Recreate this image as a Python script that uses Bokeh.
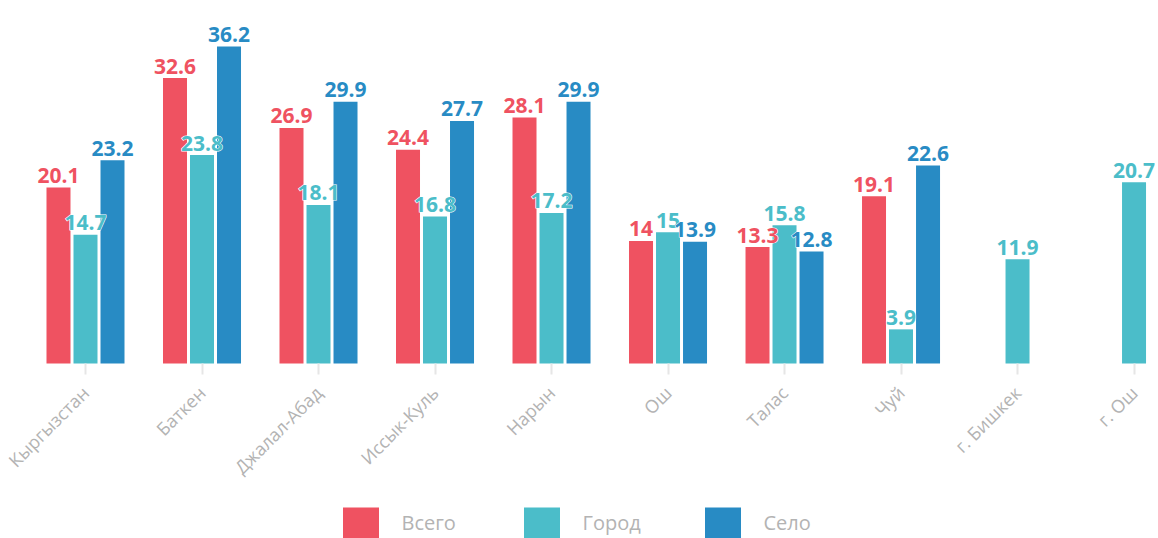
import math
from bokeh.plotting import figure
from bokeh.models import ColumnDataSource, Range1d, FixedTicker, Legend, LegendItem
from bokeh.transform import dodge
from bokeh.core.properties import value
from bokeh.embed import file_html
from bokeh.resources import INLINE

categories = ["Кыргызстан", "Баткен", "Джалал-Абад", "Иссык-Куль", "Нарын",
              "Ош", "Талас", "Чуй", "г. Бишкек", "г. Ош"]
series_names = ["Всего", "Город", "Село"]
vsego = [20.1, 32.6, 26.9, 24.4, 28.1, 14, 13.3, 19.1, None, None]
gorod = [14.7, 23.8, 18.1, 16.8, 17.2, 15, 15.8, 3.9, 11.9, 20.7]
selo = [23.2, 36.2, 29.9, 27.7, 29.9, 13.9, 12.8, 22.6, None, None]
colors = ["#EF5261", "#4BBDC9", "#288BC4"]

FONT = "Open Sans"

p = figure(width=1158, height=538, output_backend="svg",
           toolbar_location=None, x_range=Range1d(-0.7296, 9.21),
           y_range=Range1d(-19.98, 41.45), min_border=0)
p.outline_line_color = None
p.xgrid.visible = False
p.ygrid.visible = False
p.yaxis.visible = False

xa = p.xaxis[0]
xa.fixed_location = 0
xa.ticker = FixedTicker(ticks=list(range(len(categories))))
xa.major_label_overrides = {i: c for i, c in enumerate(categories)}
xa.major_label_orientation = math.pi / 4
xa.axis_line_color = None
xa.minor_tick_line_color = None
xa.major_tick_in = 0
xa.major_tick_out = 11
xa.major_tick_line_color = "#E6E6E6"
xa.major_tick_line_width = 2
xa.major_label_standoff = 15
xa.major_label_text_color = "#B3B3B3"
xa.major_label_text_font = FONT
xa.major_label_text_font_size = "18px"

offsets = [-0.2318, 0.0, 0.2318]
sources = []
renderers = []
for name, vals, col, off in zip(series_names, [vsego, gorod, selo], colors, offsets):
    xs = [i for i, v in enumerate(vals) if v is not None]
    ys = [v for v in vals if v is not None]
    src = ColumnDataSource(dict(x=xs, y=ys, label=[f"{v:g}" for v in ys]))
    sources.append((src, col, off))
    r = p.vbar(x=dodge("x", off), top="y", bottom=0, width=0.206, source=src,
               fill_color=col, line_color=None)
    renderers.append((name, r))

# labels drawn above all bars
for src, col, off in sources:
    p.text(x=dodge("x", off), y="y", text="label", source=src,
           text_align="center", text_baseline="alphabetic", y_offset=-12,
           text_color="white", text_font=value(FONT), text_font_style="bold",
           text_font_size="21px", text_outline_color="white")
    p.text(x=dodge("x", off), y="y", text="label", source=src,
           text_align="center", text_baseline="alphabetic", y_offset=-12,
           text_color=col, text_font=value(FONT), text_font_style="bold",
           text_font_size="21px")

legend = Legend(items=[LegendItem(label=n, renderers=[r]) for n, r in renderers],
                orientation="horizontal", location=(337.5, -3.9),
                glyph_width=45, glyph_height=39, label_standoff=19,
                label_width=100, spacing=17, padding=0, margin=0,
                border_line_color=None, background_fill_alpha=0,
                label_text_color="#B3B3B3", label_text_font=FONT,
                label_text_font_size="20px", label_height=39)
p.add_layout(legend, "center")

open("out.html", "w").write(file_html(p, INLINE))
